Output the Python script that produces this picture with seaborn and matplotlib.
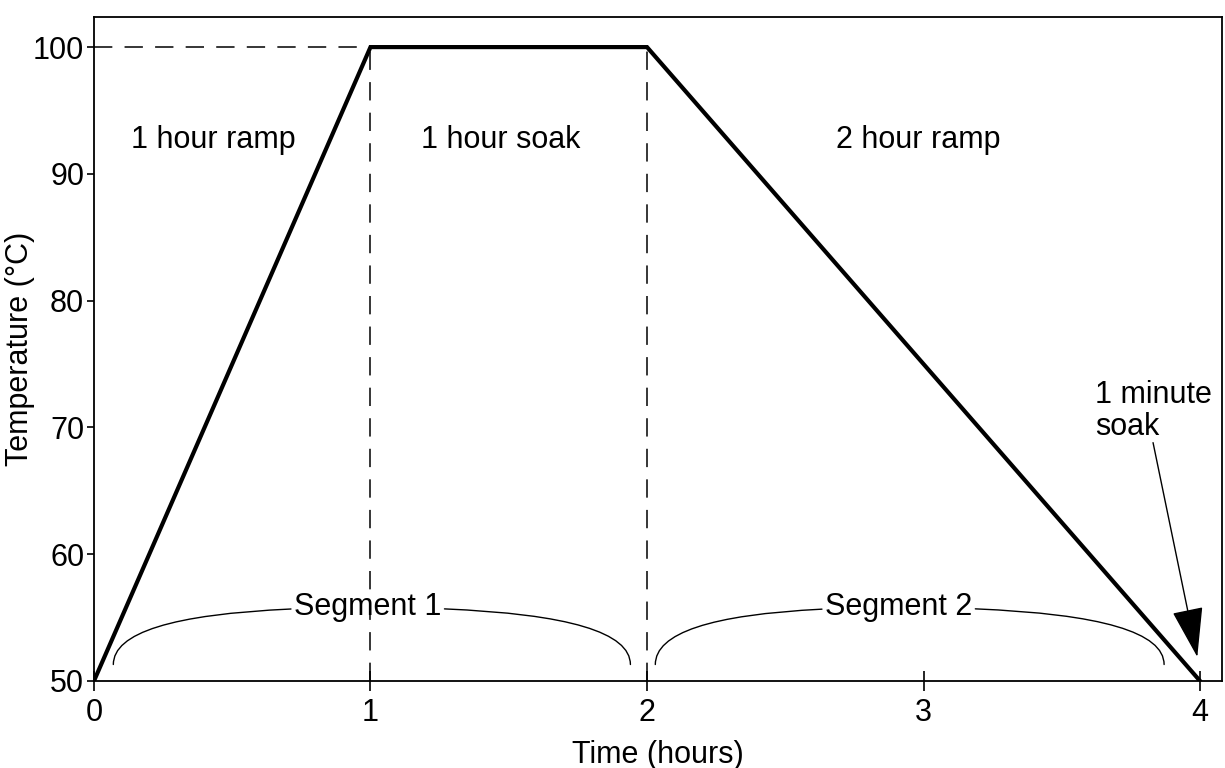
import matplotlib
matplotlib.use("Agg")
import matplotlib.pyplot as plt
import pandas as pd
import seaborn as sns

# ─── Data ───────────────────────────────
TIMES = [0, 1, 2, 4]
TEMPS = [50, 100, 100, 50]

PHASE_LABELS = ["1 hour ramp", "1 hour soak", "2 hour ramp"]
PHASE_LABEL_X = [0.43, 1.47, 2.98]
PHASE_LABEL_Y = 92.7

SEG_NAMES = ["Segment 1", "Segment 2"]
SEG_START = [0.07, 2.03]
SEG_END = [1.94, 3.87]
SEG_LABEL_X = [0.99, 2.91]
SEG_LABEL_Y = 55.8
SEG_FOOT_Y = 51.3

X_TICKS = [0, 1, 2, 3, 4]
Y_TICKS = [50, 60, 70, 80, 90, 100]

sns.set_style("ticks")
plt.rcParams["font.family"] = ["Liberation Sans", "DejaVu Sans"]
plt.rcParams["text.color"] = "black"
plt.rcParams["xtick.color"] = "black"
plt.rcParams["ytick.color"] = "black"
plt.rcParams["axes.labelcolor"] = "black"

FS = 22

fig = plt.figure(figsize=(12.25, 7.68), dpi=100)
ax = fig.add_axes([0.0767, 0.1133, 0.921, 0.865])

df = pd.DataFrame({"time": TIMES, "temp": TEMPS})
sns.lineplot(data=df, x="time", y="temp", color="black", lw=3, ax=ax,
             solid_joinstyle="miter", zorder=3)

# guide lines
ax.plot([0, TIMES[1]], [TEMPS[1], TEMPS[1]], color="black", lw=1.1,
        ls=(0, (12, 8)), zorder=2)
for t in TIMES[1:3]:
    ax.plot([t, t], [50, TEMPS[1]], color="black", lw=1.1,
            ls=(0, (12, 8)), zorder=2)

for lab, x in zip(PHASE_LABELS, PHASE_LABEL_X):
    ax.text(x, PHASE_LABEL_Y, lab, fontsize=FS, ha="center", va="center")

# segment braces
for name, s, e, lx in zip(SEG_NAMES, SEG_START, SEG_END, SEG_LABEL_X):
    t = ax.text(lx, SEG_LABEL_Y, name, fontsize=FS, ha="center", va="center",
                bbox=dict(boxstyle="square,pad=0.1", fc="none", ec="none"))
    for end in (s, e):
        ax.annotate("", xy=(end, SEG_FOOT_Y), xytext=(lx, SEG_LABEL_Y),
                    arrowprops=dict(arrowstyle="-", lw=1.0, color="black",
                                    connectionstyle="angle3,angleA=0,angleB=90",
                                    patchA=t, shrinkA=0, shrinkB=0))

# 1 minute soak annotation
ax.text(3.62, 71.3, "1 minute\nsoak", fontsize=FS, ha="left", va="center",
        linespacing=1.1)
ax.annotate("", xy=(3.99, 51.9), xytext=(3.83, 68.8),
            arrowprops=dict(arrowstyle="-|>,head_length=1.6,head_width=0.5",
                            mutation_scale=20, lw=1.0, color="black",
                            shrinkA=0, shrinkB=0))

ax.set_xlim(0, 4.08)
ax.set_ylim(50, 102.4)
ax.set_xticks(X_TICKS)
ax.set_yticks(Y_TICKS)
ax.tick_params(axis="x", direction="inout", length=14, width=1.2,
               labelsize=FS, pad=5)
ax.tick_params(axis="y", direction="out", length=5, width=1.2,
               labelsize=FS, pad=2)
for sp in ax.spines.values():
    sp.set_visible(True)
    sp.set_linewidth(1.3)
    sp.set_color("black")
ax.set_xlabel("Time (hours)", fontsize=FS, labelpad=9)
ax.set_ylabel("Temperature (\u00b0C)", fontsize=FS)
ax.yaxis.set_label_coords(-0.052, 0.5)

fig.savefig("out.png", dpi=100)
